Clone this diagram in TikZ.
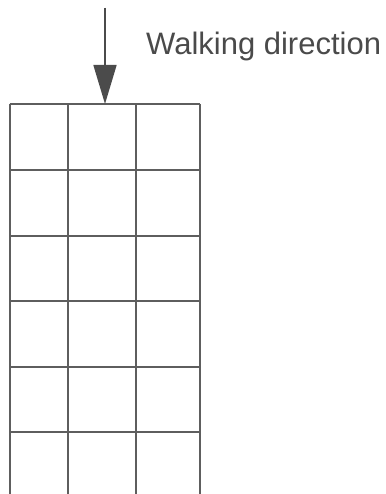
\documentclass[tikz,border=0pt]{standalone}
\usepackage{fontspec}
\setmainfont{Liberation Sans}
\usetikzlibrary{arrows.meta,positioning}
\definecolor{gridgray}{HTML}{5E5E5E}
\definecolor{txtgray}{HTML}{4A4A4A}
\tikzset{gridline/.style={draw=gridgray,line width=2pt},
  walk/.style={-{Triangle[length=39pt,width=23pt]},draw=gridgray!80!black,fill=gridgray!80!black,line width=1.6pt},
  lbl/.style={anchor=base west,inner sep=0pt,text=txtgray,font=\fontsize{31}{31}\selectfont}}
\begin{document}
\begin{tikzpicture}[x=1pt,y=-1pt]
\useasboundingbox (0,0) rectangle (385,494);
\foreach \x in {9.5,68,136,200}{\draw[gridline] (\x,104)--(\x,494);}
\foreach \y in {104,170,236,301,367,432}{\draw[gridline] (9.5,\y)--(200,\y);}
\coordinate (start) at (105,8);
\coordinate (gridtop) at (105,104);
\draw[walk] (start)--(gridtop);
\node[lbl] (walklbl) at (146,55){Walking direction};
\end{tikzpicture}
\end{document}
